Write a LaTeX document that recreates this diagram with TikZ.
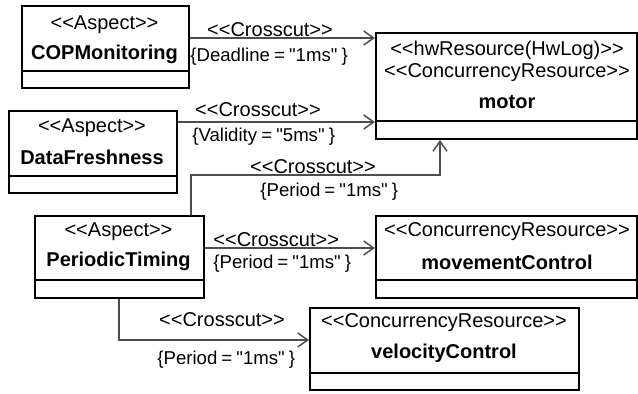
\documentclass[tikz,border=0pt]{standalone}
\usepackage{fontspec}
\setmainfont{Liberation Sans}[Ligatures=TeXOff]
\newfontfamily\tagfont{Liberation Sans}[Ligatures=TeXOff, WordSpace=0.8]
\usetikzlibrary{arrows.meta}
\definecolor{linkgray}{HTML}{4D4D4D}
\tikzset{
  clsbox/.style={draw=black, line width=1pt, fill=white, inner sep=0pt, anchor=north west},
  sep/.style={draw=black, line width=1pt},
  stereo/.style={inner sep=0pt, font=\fontsize{10}{12}\selectfont},
  clsname/.style={inner sep=0pt, font=\fontsize{10}{12}\selectfont\bfseries},
  lbl/.style={inner sep=0pt, font=\fontsize{10}{12}\selectfont},
  tag/.style={inner sep=0pt, anchor=west, font=\tagfont\fontsize{9.3}{12}\selectfont},
  link/.style={draw=linkgray, line width=0.75pt, -{Straight Barb[length=5pt,width=7pt,line width=0.75pt]}},
}
\begin{document}
\begin{tikzpicture}[x=0.5pt,y=-0.5pt]
\useasboundingbox (0,0) rectangle (638,393);

% classes
\node[clsbox, minimum width=83.5pt, minimum height=41pt] (cop) at (21,5) {};
\draw[sep] (cop.west |- 0,71) -- (cop.east |- 0,71);
\node[stereo] (copS) at (104.5,25) {<<Aspect>>};
\node[clsname] (copN) at (104.5,54) {COPMonitoring};

\node[clsbox, minimum width=84pt, minimum height=41pt] (dfr) at (8,110) {};
\draw[sep] (dfr.west |- 0,176) -- (dfr.east |- 0,176);
\node[stereo] (dfrS) at (92,128) {<<Aspect>>};
\node[clsname] (dfrN) at (92,157) {DataFreshness};

\node[clsbox, minimum width=130.5pt, minimum height=53pt] (motor) at (375,32) {};
\draw[sep] (motor.west |- 0,121) -- (motor.east |- 0,121);
\node[stereo] (motS1) at (507,50) {<<hwResource(HwLog)>>};
\node[stereo] (motS2) at (507,73) {<<ConcurrencyResource>>};
\node[clsname] (motN) at (507,102) {motor};

\node[clsbox, minimum width=84.5pt, minimum height=41pt] (pt) at (34,215) {};
\draw[sep] (pt.west |- 0,280) -- (pt.east |- 0,280);
\node[stereo] (ptS) at (118.5,232) {<<Aspect>>};
\node[clsname] (ptN) at (118.5,261) {PeriodicTiming};

\node[clsbox, minimum width=130.5pt, minimum height=41pt] (mc) at (375,215) {};
\draw[sep] (mc.west |- 0,280) -- (mc.east |- 0,280);
\node[stereo] (mcS) at (507,232) {<<ConcurrencyResource>>};
\node[clsname] (mcN) at (507,262) {movementControl};

\node[clsbox, minimum width=134.5pt, minimum height=41pt] (vc) at (309,307) {};
\draw[sep] (vc.west |- 0,373) -- (vc.east |- 0,373);
\node[stereo] (vcS) at (444,323) {<<ConcurrencyResource>>};
\node[clsname] (vcN) at (444,353) {velocityControl};

% crosscut links
\draw[link] (cop.east |- 0,38) -- (motor.west |- 0,38);
\node[lbl] (l1a) at (270,30) {<<Crosscut>>};
\node[tag] (l1b) at (190,57) {\{Deadline = "1ms" \}};

\draw[link] (dfr.east |- 0,122) -- (motor.west |- 0,122);
\node[lbl] (l2a) at (258,110) {<<Crosscut>>};
\node[tag] (l2b) at (192,137) {\{Validity = "5ms" \}};

\coordinate (b1) at (191,175);
\coordinate (b2) at (440,175);
\draw[link] (b1 |- pt.north) -- (b1) -- (b2) -- (b2 |- motor.south);
\node[lbl] (l3a) at (313,167) {<<Crosscut>>};
\node[tag] (l3b) at (260,192) {\{Period = "1ms" \}};

\draw[link] (pt.east |- 0,248) -- (mc.west |- 0,248);
\node[lbl, anchor=west] (l4a) at (213,240) {<<Crosscut>>};
\node[tag] (l4b) at (213,264) {\{Period = "1ms" \}};

\coordinate (c1) at (119,340);
\draw[link] (c1 |- pt.south) -- (c1) -- (vc.west |- c1);
\node[lbl] (l5a) at (222,320) {<<Crosscut>>};
\node[tag] (l5b) at (157,360) {\{Period = "1ms" \}};
\end{tikzpicture}
\end{document}
